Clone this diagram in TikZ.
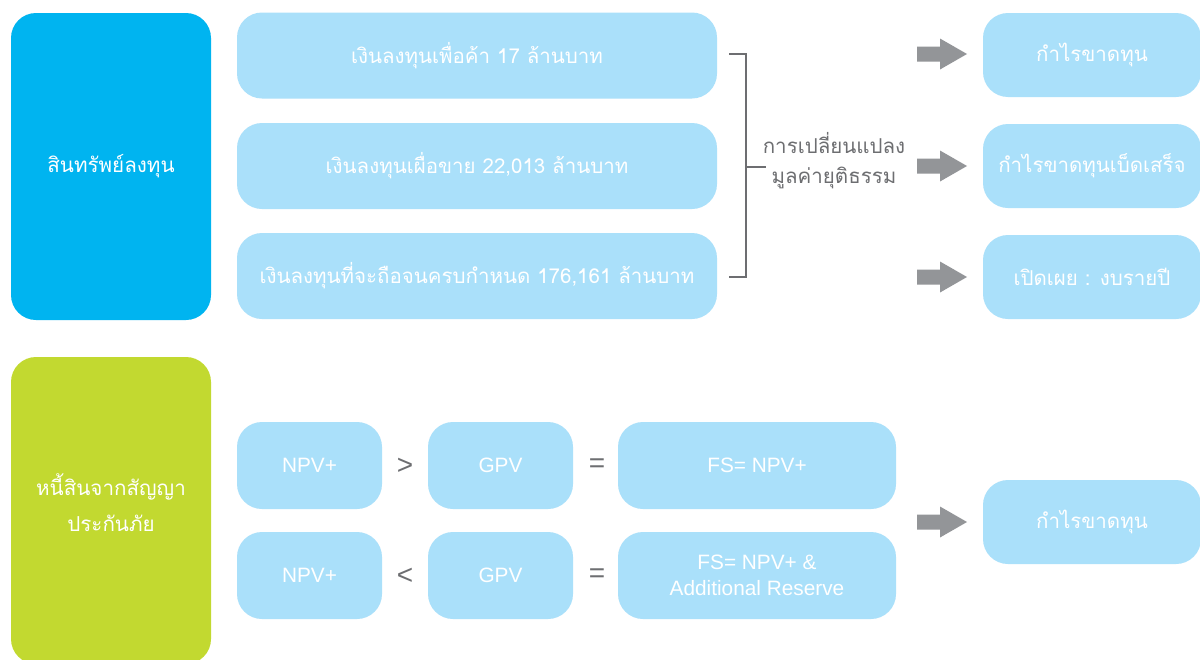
\documentclass[tikz,border=0pt]{standalone}
\usepackage{fontspec}
\setmainfont{Liberation Sans}
\newfontfamily\thaifont[Script=Thai]{Loma}
\definecolor{mainblue}{RGB}{0,180,240}
\definecolor{maingreen}{RGB}{194,217,48}
\definecolor{lightblue}{RGB}{170,224,250}
\definecolor{arrowgray}{RGB}{147,149,152}
\definecolor{textgray}{RGB}{109,110,113}
\tikzset{
  bigbox/.style={rounded corners=25pt, inner sep=0pt, text=white, align=center, font=\thaifont\fontsize{20.6}{36}\selectfont},
  lbox/.style={fill=lightblue, rounded corners=25pt, inner sep=0pt, text=white, align=center},
  thtxt/.style={font=\thaifont\fontsize{20.5}{24}\selectfont},
  entxt/.style={font=\fontsize{20.8}{25.5}\selectfont},
  optxt/.style={text=textgray, font=\fontsize{28}{30}\selectfont},
  pics/blockarrow/.style={code={\fill[arrowgray] (-25,-7.5) -- (-2,-7.5) -- (-2,-15.5) -- (25,0) -- (-2,15.5) -- (-2,7.5) -- (-25,7.5) -- cycle;}}
}
\begin{document}
\begin{tikzpicture}[x=1pt,y=-1pt]
\clip (0,0) rectangle (1200,659);
\fill[white] (0,0) rectangle (1200,659);
% left category boxes
\node[bigbox, fill=mainblue, minimum width=200pt, minimum height=307pt] (assets) at (111,166.5) {สินทรัพย์ลงทุน};
\node[bigbox, fill=maingreen, minimum width=200pt, minimum height=307pt] (liab) at (111,510.5) {};
\node[text=white, align=center, font=\thaifont\fontsize{20.6}{36}\selectfont] (liabtxt) at (111,502.5) {หนี้สินจากสัญญา\\ประกันภัย};
% middle investment boxes
\node[lbox, thtxt, minimum width=480pt, minimum height=86pt] (inv1) at (477,55.5) {เงินลงทุนเพื่อค้า 17 ล้านบาท};
\node[lbox, thtxt, minimum width=480pt, minimum height=86pt] (inv2) at (477,166) {เงินลงทุนเผื่อขาย 22,013 ล้านบาท};
\node[lbox, thtxt, minimum width=480pt, minimum height=86pt] (inv3) at (477,276) {เงินลงทุนที่จะถือจนครบกำหนด 176,161 ล้านบาท};
% bracket
\coordinate (bt) at (729,54);
\coordinate (bb) at (729,277);
\coordinate (bm) at (766,167);
\draw[textgray, line width=1.5pt] (bt) -- (746,54) -- (746,277) -- (bb);
\draw[textgray, line width=1.5pt] (746,167) -- (bm);
\node[text=textgray, align=center, font=\thaifont\fontsize{20.5}{30}\selectfont] (fv) at (834,161) {การเปลี่ยนแปลง\\มูลค่ายุติธรรม};
% arrows
\pic at (942,54) {blockarrow};
\pic at (942,166) {blockarrow};
\pic at (942,277) {blockarrow};
\pic at (942,522) {blockarrow};
% right result boxes
\node[lbox, thtxt, minimum width=218pt, minimum height=84pt] (r1) at (1092,55) {กำไรขาดทุน};
\node[lbox, thtxt, minimum width=218pt, minimum height=84pt] (r2) at (1092,166) {กำไรขาดทุนเบ็ดเสร็จ};
\node[lbox, thtxt, minimum width=218pt, minimum height=84pt] (r3) at (1092,277) {เปิดเผย : งบรายปี};
\node[lbox, thtxt, minimum width=218pt, minimum height=84pt] (r4) at (1092,522) {กำไรขาดทุน};
% liability comparison
\node[lbox, entxt, minimum width=145pt, minimum height=87pt] (npv1) at (309.5,465.5) {NPV+};
\node[lbox, entxt, minimum width=145pt, minimum height=87pt] (npv2) at (309.5,575.5) {NPV+};
\node[lbox, entxt, minimum width=145pt, minimum height=87pt] (gpv1) at (500.5,465.5) {GPV};
\node[lbox, entxt, minimum width=145pt, minimum height=87pt] (gpv2) at (500.5,575.5) {GPV};
\node[lbox, entxt, minimum width=278pt, minimum height=87pt] (fs1) at (757,465.5) {FS= NPV+};
\node[lbox, entxt, minimum width=278pt, minimum height=87pt] (fs2) at (757,575.5) {FS= NPV+ \&\\Additional Reserve};
\node[optxt] (gt) at (405,466) {>};
\node[optxt] (lt) at (405,576) {<};
\node[optxt] (eq1) at (597,466) {=};
\node[optxt] (eq2) at (597,576) {=};
\end{tikzpicture}
\end{document}
